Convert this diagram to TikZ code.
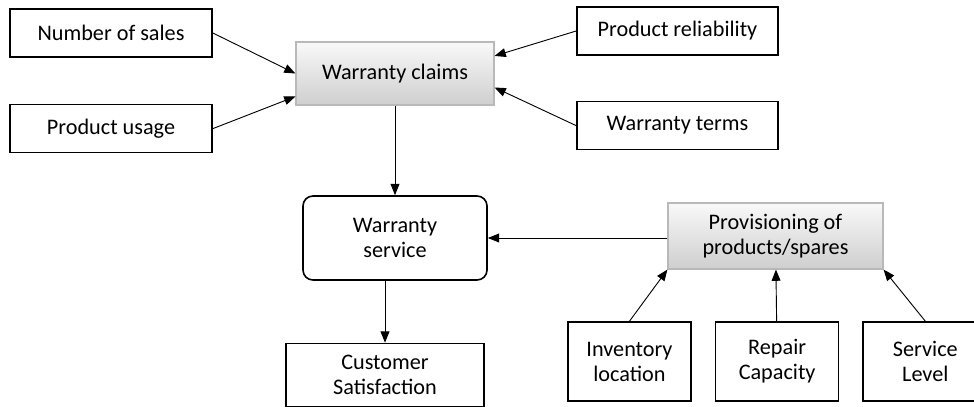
\documentclass[tikz,border=0pt]{standalone}
\usepackage{fontspec}
\setmainfont{Carlito}
\usetikzlibrary{arrows.meta,positioning}

\begin{document}
\begin{tikzpicture}[
  x=0.025cm, y=-0.025cm,
  font=\fontsize{15.8}{17.8}\selectfont,
  node distance=1.15cm and 0.575cm,
  box/.style={draw, line width=1.15pt, align=center, inner sep=2pt},
  greybox/.style={draw=gray!55, line width=0.8pt, top color=gray!5, bottom color=gray!38, align=center, inner sep=2pt},
  arrow/.style={-{Triangle[length=2.8mm, width=2.2mm]}, line width=0.65pt}
]
\useasboundingbox (0,0) rectangle (974,407);
\clip (0,0) rectangle (974,407);
\node[box, minimum width=5.05cm, minimum height=1.2cm] (sales) at (111,33) {Number of sales};
\node[box, minimum width=5.05cm, minimum height=1.2cm, below=of sales] (usage) {Product usage};
\node[greybox, minimum width=4.95cm, minimum height=1.575cm] (claims) at (395,73.5) {Warranty claims};
\node[box, minimum width=5.025cm, minimum height=1.2cm] (reliab) at (677.5,31) {Product reliability};
\node[box, minimum width=5.025cm, minimum height=1.2cm, below=1.125cm of reliab] (terms) {Warranty terms};
\node[box, rounded corners=0.25cm, minimum width=4.6cm, minimum height=2.1cm] (service) at (395,238) {Warranty\\service};
\node[box, minimum width=4.95cm, minimum height=1.575cm] (cust) at (385,375) {Customer\\Satisfaction};
\node[greybox, minimum width=5.375cm, minimum height=1.65cm] (prov) at (775.5,236) {Provisioning of\\products/spares};
\node[box, minimum width=3.075cm, minimum height=1.975cm] (inv) at (629.5,361.5) {Inventory\\location};
\node[box, minimum width=3.075cm, minimum height=1.975cm, right=of inv] (repair) {Repair\\Capacity};
\node[box, minimum width=3.1cm, minimum height=1.975cm, right=of repair] (level) {Service\\Level};

\draw[arrow] (sales.east) -- (claims.west);
\draw[arrow] (usage.east) -- (claims.193);
\draw[arrow] (reliab.west) -- (claims.10);
\draw[arrow] (terms.west) -- (claims.-8);
\draw[arrow] (claims) -- (service);
\draw[arrow] (cust.north |- service.south) -- (cust.north);
\draw[arrow] (prov.west |- service.east) -- (service.east);
\draw[arrow] (inv.north) -- (prov.south west);
\draw[arrow] (repair) -- (prov);
\draw[arrow] (level.north) -- (prov.south east);
\end{tikzpicture}
\end{document}
